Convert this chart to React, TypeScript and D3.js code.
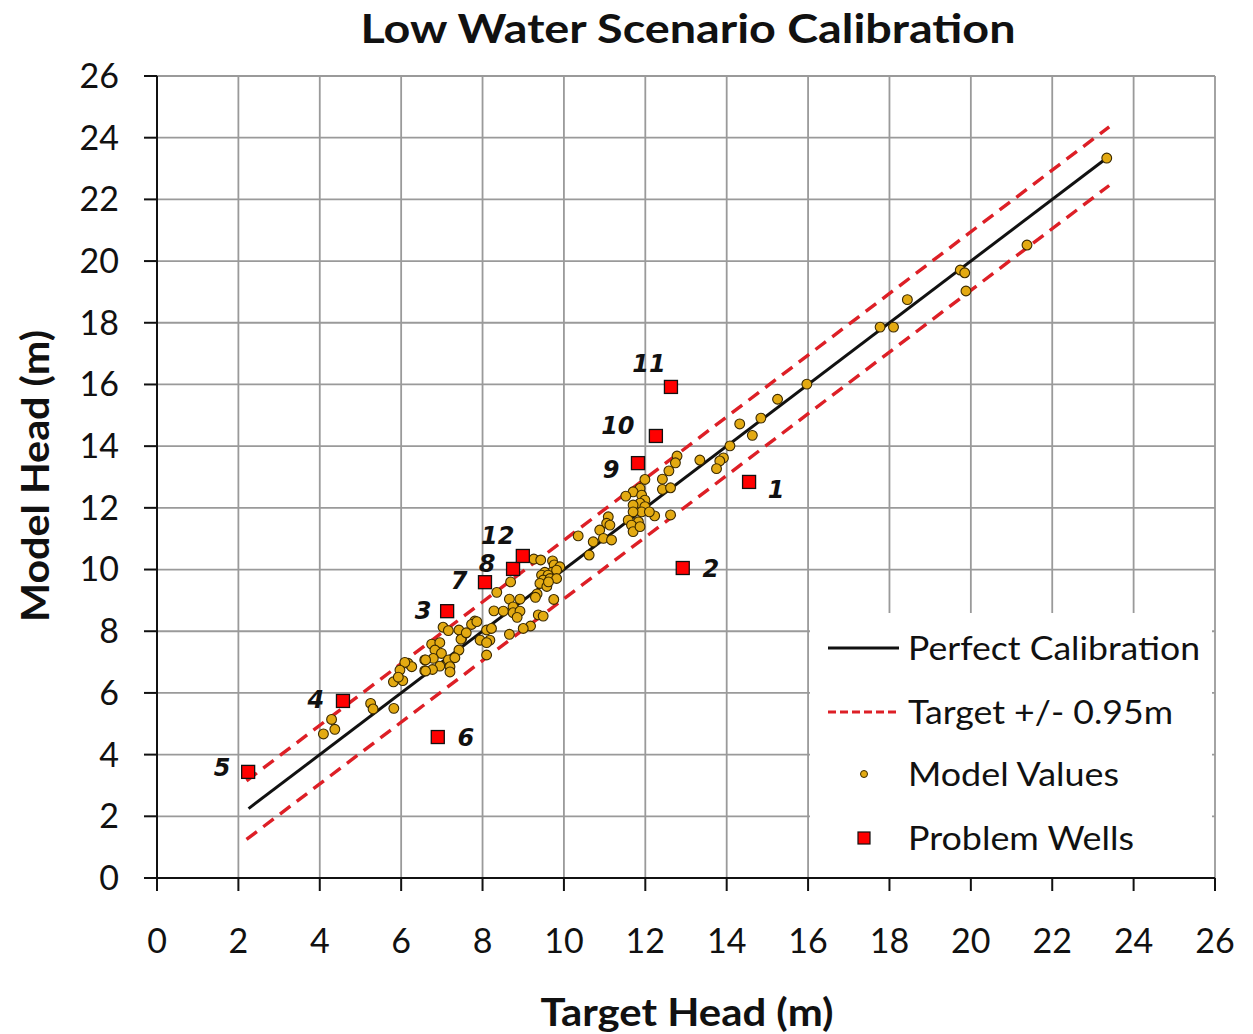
import React from "react";
import * as d3 from "d3";

// Axis ticks (m)
const axisTicks = d3.range(0, 27, 2);

// Calibration reference lines
const perfectRange: [number, number] = [2.25, 23.35];
const toleranceRange: [number, number] = [2.2, 23.4];
const tolerance = 0.95;

// Model values: [target head, model head]
const modelValues: [number, number][] = [
  [23.34, 23.34], [21.38, 20.52], [19.74, 19.71], [19.85, 19.62], [19.88, 19.03],
  [18.44, 18.75], [17.77, 17.86], [18.1, 17.86], [15.97, 16.01], [15.25, 15.52],
  [14.84, 14.91], [14.32, 14.72], [14.63, 14.35], [14.08, 14.01], [13.92, 13.62],
  [13.83, 13.52], [13.34, 13.55], [13.75, 13.27], [12.78, 13.68], [12.74, 13.46],
  [12.58, 13.2], [12.42, 12.93], [12.42, 12.6], [12.62, 12.65], [12.23, 11.74],
  [12.62, 11.77], [11.99, 12.92], [11.87, 12.63], [11.7, 12.52], [11.52, 12.38],
  [11.91, 12.41], [11.99, 12.25], [11.87, 12.15], [11.7, 12.09], [11.99, 12.04],
  [11.91, 11.87], [11.7, 11.87], [12.1, 11.87], [11.58, 11.6], [11.83, 11.55],
  [11.66, 11.44], [11.7, 11.23], [11.87, 11.39], [11.09, 11.71], [11.05, 11.5],
  [11.13, 11.44], [10.88, 11.28], [10.97, 11.01], [11.17, 10.96], [10.72, 10.9],
  [10.35, 11.09], [10.62, 10.47], [9.26, 10.34], [9.43, 10.31], [9.72, 10.28],
  [9.76, 10.15], [9.9, 10.09], [9.7, 9.91], [9.82, 9.98], [9.53, 9.91],
  [9.45, 9.82], [9.61, 9.82], [9.49, 9.66], [9.66, 9.71], [9.82, 9.71],
  [9.41, 9.55], [8.69, 9.6], [8.35, 9.26], [8.66, 9.04], [8.92, 9.04],
  [9.34, 9.21], [9.75, 9.03], [8.75, 8.79], [8.75, 8.6], [8.92, 8.65],
  [8.28, 8.66], [8.51, 8.65], [9.37, 8.53], [9.49, 8.49], [9.18, 8.17],
  [9.0, 8.09], [8.66, 7.9], [7.81, 8.33], [7.73, 8.22], [8.1, 8.04],
  [8.22, 8.09], [7.94, 7.71], [8.18, 7.71], [7.49, 7.77], [8.1, 7.23],
  [8.1, 7.63], [7.03, 8.13], [7.16, 8.02], [7.42, 8.04], [7.86, 8.31],
  [7.47, 7.74], [6.75, 7.58], [6.95, 7.63], [6.83, 7.39], [6.99, 7.28],
  [7.42, 7.39], [6.58, 7.07], [6.79, 7.12], [7.16, 7.07], [7.32, 7.14],
  [6.95, 6.87], [7.2, 6.85], [6.58, 6.72], [6.77, 6.76], [7.2, 6.68],
  [6.17, 6.96], [6.26, 6.85], [6.09, 6.99], [5.97, 6.74], [5.81, 6.36],
  [6.04, 6.4], [5.93, 6.51], [6.6, 6.71], [6.6, 7.07], [4.29, 5.14],
  [4.37, 4.82], [4.09, 4.67], [5.25, 5.66], [5.31, 5.48], [5.82, 5.5],
  [9.58, 9.45], [9.3, 9.1], [8.85, 8.45], [9.62, 9.6], [7.6, 7.95],
];

// Problem wells: id, target head, model head
const wellIds = ["1", "2", "3", "4", "5", "6", "7", "8", "9", "10", "11", "12"];
const wellTarget = [14.55, 12.92, 7.13, 4.57, 2.24, 6.9, 8.06, 8.75, 11.82, 12.26, 12.63, 8.99];
const wellModel = [12.84, 10.05, 8.65, 5.74, 3.44, 4.57, 9.59, 10.02, 13.45, 14.33, 15.92, 10.44];
// Label placement relative to each well marker (px)
const labelOffsets: [number, number][] = [
  [27, 8], [28, 1], [-24, -1], [-27, -1], [-26, -4], [28, 1],
  [-26, -2], [-26, -5], [-27, 6], [-38, -10], [-22, -23], [-25, -20],
];

const legendItems = ["Perfect Calibration", "Target +/- 0.95m", "Model Values", "Problem Wells"];
const legendWidths = [292, 265, 211, 226];

const W = 1253;
const H = 1034;
const M = { left: 157, right: 1215, top: 76, bottom: 878 };
const FONT = "Lato, 'Open Sans', sans-serif";

export default function App() {
  const x = d3.scaleLinear().domain([0, 26]).range([M.left, M.right]);
  const y = d3.scaleLinear().domain([0, 26]).range([M.bottom, M.top]);
  const line = d3
    .line<[number, number]>()
    .x((d) => x(d[0]))
    .y((d) => y(d[1]));

  const perfect: [number, number][] = perfectRange.map((v) => [v, v]);
  const upper: [number, number][] = toleranceRange.map((v) => [v, v + tolerance]);
  const lower: [number, number][] = toleranceRange.map((v) => [v, v - tolerance]);

  const legendX = 810;
  const legendY = 613;
  const rowY = [648, 712, 774, 838];

  return (
    <svg width={W} height={H} style={{ display: "block", position: "absolute", left: 0, top: 0, background: "#fff" }}>
      <rect width={W} height={H} fill="#fff" />
      {/* title */}
      <text
        x={688}
        y={43}
        textAnchor="middle"
        fontFamily={FONT}
        fontWeight={700}
        fontSize={41}
        textLength={655}
        lengthAdjust="spacingAndGlyphs"
        fill="#111"
      >
        Low Water Scenario Calibration
      </text>

      {/* grid */}
      {axisTicks.map((t) => (
        <line key={"gx" + t} x1={x(t)} x2={x(t)} y1={M.top} y2={M.bottom} stroke="#9a9a9a" strokeWidth={1.8} />
      ))}
      {axisTicks.map((t) => (
        <line key={"gy" + t} x1={M.left} x2={M.right} y1={y(t)} y2={y(t)} stroke="#9a9a9a" strokeWidth={1.8} />
      ))}

      {/* axes */}
      <line x1={M.left} x2={M.left} y1={M.top} y2={M.bottom} stroke="#111" strokeWidth={2} />
      <line x1={M.left} x2={M.right} y1={M.bottom} y2={M.bottom} stroke="#111" strokeWidth={2} />
      {axisTicks.map((t) => (
        <line key={"tx" + t} x1={x(t)} x2={x(t)} y1={M.bottom} y2={M.bottom + 13} stroke="#111" strokeWidth={2} />
      ))}
      {axisTicks.map((t) => (
        <line key={"ty" + t} x1={M.left - 13} x2={M.left} y1={y(t)} y2={y(t)} stroke="#111" strokeWidth={2} />
      ))}
      {axisTicks.map((t) => (
        <text key={"lx" + t} x={x(t)} y={953} textAnchor="middle" fontFamily={FONT} fontSize={34} fill="#111">
          {t}
        </text>
      ))}
      {axisTicks.map((t) => (
        <text key={"ly" + t} x={119} y={y(t)} dy="0.35em" textAnchor="end" fontFamily={FONT} fontSize={34} fill="#111">
          {t}
        </text>
      ))}

      {/* axis titles */}
      <text
        x={687}
        y={1026}
        textAnchor="middle"
        fontFamily={FONT}
        fontWeight={700}
        fontSize={38}
        textLength={293}
        lengthAdjust="spacingAndGlyphs"
        fill="#111"
      >
        Target Head (m)
      </text>
      <text
        transform={`translate(49,476) rotate(-90)`}
        textAnchor="middle"
        fontFamily={FONT}
        fontWeight={700}
        fontSize={38}
        textLength={292}
        lengthAdjust="spacingAndGlyphs"
        fill="#111"
      >
        Model Head (m)
      </text>

      {/* calibration lines */}
      <path d={line(upper) ?? ""} fill="none" stroke="#dd1f26" strokeWidth={3.4} strokeDasharray="13 8" />
      <path d={line(lower) ?? ""} fill="none" stroke="#dd1f26" strokeWidth={3.4} strokeDasharray="13 8" />
      <path d={line(perfect) ?? ""} fill="none" stroke="#111" strokeWidth={3} />

      {/* model values */}
      {modelValues.map((d, i) => (
        <circle key={"m" + i} cx={x(d[0])} cy={y(d[1])} r={4.9} fill="#e3aa12" stroke="#3b2a00" strokeWidth={1.1} />
      ))}

      {/* problem wells */}
      {wellIds.map((id, i) => {
        const cx = x(wellTarget[i]);
        const cy = y(wellModel[i]);
        return (
          <g key={"w" + id}>
            <rect x={cx - 6.5} y={cy - 6.5} width={13} height={13} fill="#ff0000" stroke="#111" strokeWidth={1.3} />
            <text
              x={cx + labelOffsets[i][0]}
              y={cy + labelOffsets[i][1]}
              dy="0.35em"
              textAnchor="middle"
              fontFamily="'DejaVu Sans', sans-serif"
              fontWeight={700}
              fontStyle="italic"
              fontSize={24}
              fill="#111"
            >
              {id}
            </text>
          </g>
        );
      })}

      {/* legend */}
      <rect x={legendX} y={legendY} width={402} height={M.bottom - legendY - 1} fill="#fff" />
      <line x1={828} x2={899} y1={rowY[0]} y2={rowY[0]} stroke="#111" strokeWidth={3} />
      <line x1={828} x2={899} y1={rowY[1]} y2={rowY[1]} stroke="#dd1f26" strokeWidth={3} strokeDasharray="8 4" />
      <circle cx={864} cy={rowY[2]} r={3.5} fill="#e3aa12" stroke="#3b2a00" strokeWidth={1} />
      <rect x={858} y={rowY[3] - 6} width={12} height={12} fill="#ff0000" stroke="#111" strokeWidth={1.2} />
      {legendItems.map((label, i) => (
        <text
          key={label}
          x={908}
          y={rowY[i]}
          dy="0.35em"
          fontFamily={FONT}
          fontSize={33}
          textLength={legendWidths[i]}
          lengthAdjust="spacingAndGlyphs"
          fill="#111"
        >
          {label}
        </text>
      ))}
    </svg>
  );
}
